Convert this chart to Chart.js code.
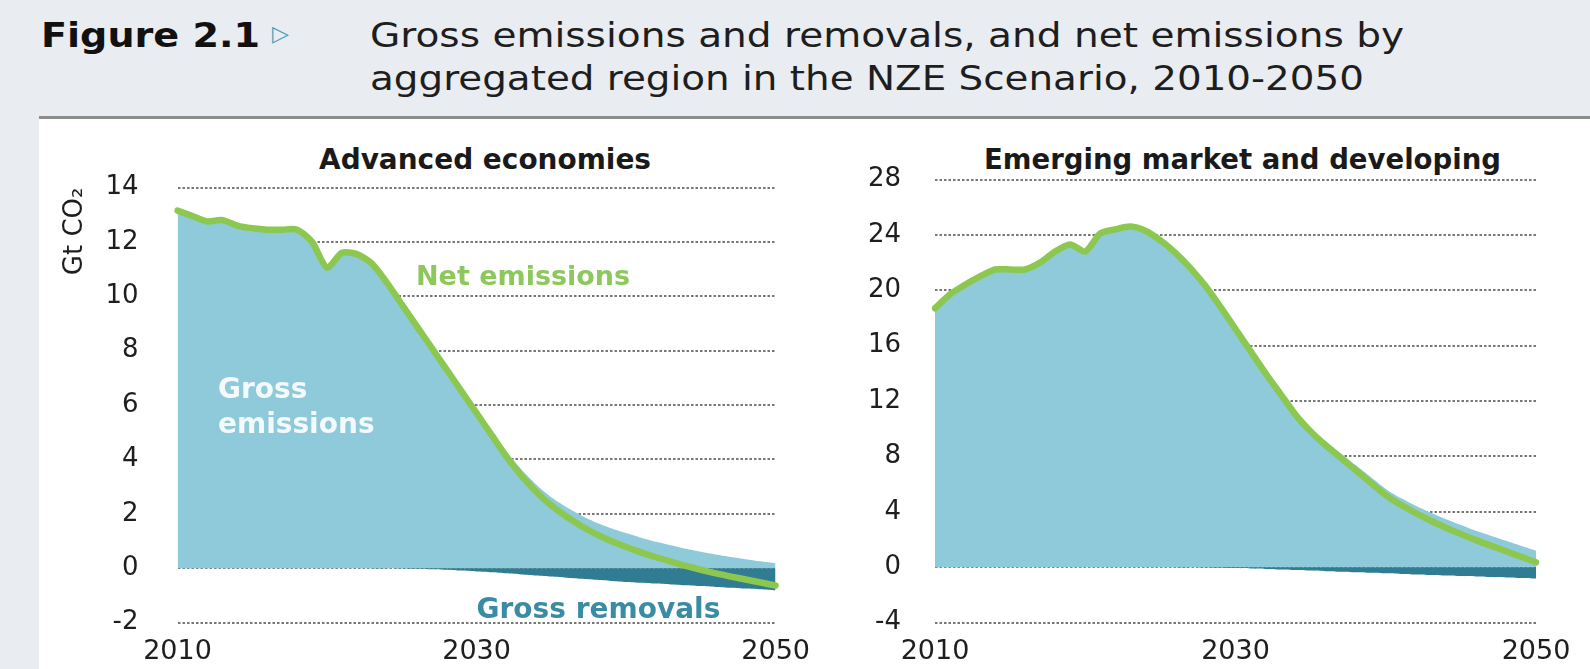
<!DOCTYPE html>
<html>
<head>
<meta charset="utf-8">
<script src="https://cdn.jsdelivr.net/npm/chart.js@4.4.1/dist/chart.umd.min.js"></script>
<style>
  html, body { margin: 0; padding: 0; background: #ffffff; }
  #page { position: relative; width: 1590px; height: 669px; overflow: hidden; background: #ffffff; }
  #band { position: absolute; left: 0; top: 0; width: 1590px; height: 117px; background: #e9edf1; }
  #strip { position: absolute; left: 0; top: 0; width: 39px; height: 669px; background: #e9edf1; }
  #rule { position: absolute; left: 39px; top: 116px; width: 1551px; height: 3px; background: #8c8c8c; }
  .txt { position: absolute; white-space: nowrap; transform-origin: 0 0; line-height: 1; color: #1e1e1e; }
  #figno { left: 41px; top: 15px; font: bold 34px "DejaVu Sans"; color: #111; }
  #tri { left: 272px; top: 21px; font: 22px "DejaVu Sans"; color: #4aa0b8; }
  #line1 { left: 370px; top: 15px; font: 34px "DejaVu Sans"; }
  #line2 { left: 370px; top: 58px; font: 34px "DejaVu Sans"; }
  .ptitle { top: 143px; font: bold 28px "DejaVu Sans"; color: #1a1a1a; }
  #tAdv { left: 319px; }
  #tEmd { left: 984px; }
  canvas { position: absolute; }
  #cAdv { left: 40px; top: 120px; }
  #cEmd { left: 810px; top: 120px; }
</style>
</head>
<body>
<div id="page">
  <div id="band"></div>
  <div id="strip"></div>
  <div id="rule"></div>
  <div class="txt" id="figno" data-w="219">Figure 2.1</div>
  <div class="txt" id="tri">▷</div>
  <div class="txt" id="line1" data-w="1034">Gross emissions and removals, and net emissions by</div>
  <div class="txt" id="line2" data-w="994">aggregated region in the NZE Scenario, 2010-2050</div>
  <div class="txt ptitle" id="tAdv" data-w="332">Advanced economies</div>
  <div class="txt ptitle" id="tEmd" data-w="517">Emerging market and developing</div>
  <canvas id="cAdv" width="770" height="549"></canvas>
  <canvas id="cEmd" width="780" height="549"></canvas>
</div>
<script>
// Years on the horizontal axis (annual steps)
const years = [2010, 2011, 2012, 2013, 2014, 2015, 2016, 2017, 2018, 2019,
               2020, 2021, 2022, 2023, 2024, 2025, 2026, 2027, 2028, 2029,
               2030, 2031, 2032, 2033, 2034, 2035, 2036, 2037, 2038, 2039,
               2040, 2041, 2042, 2043, 2044, 2045, 2046, 2047, 2048, 2049, 2050];
const xTickYears = [2010, 2030, 2050];

// Advanced economies (Gt CO2)
const advGross = [13.15, 12.95, 12.75, 12.8, 12.6, 12.5, 12.45, 12.45, 12.45, 12.0,
                  11.05, 11.6, 11.55, 11.2, 10.5, 9.71, 8.92, 8.14, 7.36, 6.59,
                  5.82, 5.05, 4.29, 3.63, 3.07, 2.61, 2.25, 1.94, 1.68, 1.47,
                  1.29, 1.12, 0.97, 0.84, 0.71, 0.6, 0.5, 0.41, 0.33, 0.25, 0.18];
const advRemovals = [0, 0, 0, 0, 0, 0, 0, 0, 0, 0,
                     0, 0, 0, 0, 0, -0.01, -0.02, -0.04, -0.06, -0.09,
                     -0.12, -0.15, -0.19, -0.23, -0.27, -0.31, -0.35, -0.39, -0.43, -0.47,
                     -0.51, -0.54, -0.57, -0.6, -0.63, -0.66, -0.69, -0.72, -0.75, -0.78, -0.82];
const advNet = [13.15, 12.95, 12.75, 12.8, 12.6, 12.5, 12.45, 12.45, 12.45, 12.0,
                11.05, 11.6, 11.55, 11.2, 10.5, 9.7, 8.9, 8.1, 7.3, 6.5,
                5.7, 4.9, 4.1, 3.4, 2.8, 2.3, 1.9, 1.55, 1.25, 1.0,
                0.78, 0.58, 0.4, 0.24, 0.08, -0.06, -0.19, -0.31, -0.42, -0.53, -0.64];

// Emerging market and developing economies (Gt CO2)
const emdGross = [18.7, 19.7, 20.4, 21.0, 21.5, 21.5, 21.5, 22.0, 22.8, 23.3,
                  22.8, 24.1, 24.4, 24.6, 24.3, 23.6, 22.7, 21.6, 20.32, 18.84,
                  17.27, 15.7, 14.13, 12.67, 11.21, 10.05, 9.09, 8.23, 7.37, 6.51,
                  5.65, 4.99, 4.43, 3.92, 3.46, 3.05, 2.63, 2.27, 1.9, 1.54, 1.18];
const emdRemovals = [0, 0, 0, 0, 0, 0, 0, 0, 0, 0,
                     0, 0, 0, 0, 0, 0, 0, 0, -0.02, -0.04,
                     -0.07, -0.1, -0.13, -0.17, -0.21, -0.25, -0.29, -0.33, -0.37, -0.41,
                     -0.45, -0.49, -0.53, -0.57, -0.61, -0.65, -0.68, -0.72, -0.75, -0.79, -0.83];
const emdNet = [18.7, 19.7, 20.4, 21.0, 21.5, 21.5, 21.5, 22.0, 22.8, 23.3,
                22.8, 24.1, 24.4, 24.6, 24.3, 23.6, 22.7, 21.6, 20.3, 18.8,
                17.2, 15.6, 14.0, 12.5, 11.0, 9.8, 8.8, 7.9, 7.0, 6.1,
                5.2, 4.5, 3.9, 3.35, 2.85, 2.4, 1.95, 1.55, 1.15, 0.75, 0.35];

const COLORS = {
  gross: '#8fcadb',
  removals: '#2f7c93',
  net: '#8cc84f',
  grid: '#777777',
  text: '#1e1e1e'
};

// Stretch header lines to their set widths
function fitText() {
  document.querySelectorAll('.txt[data-w]').forEach(el => {
    el.style.transform = 'none';
    const w = el.getBoundingClientRect().width;
    const target = parseFloat(el.dataset.w);
    el.style.transform = 'scaleX(' + (target / w) + ')';
  });
}
fitText();
if (document.fonts && document.fonts.ready) document.fonts.ready.then(fitText);

// Text labels placed in data coordinates inside the plot
const areaLabels = {
  id: 'areaLabels',
  afterDatasetsDraw(chart, args, opts) {
    const { ctx, scales } = chart;
    (opts.items || []).forEach(it => {
      const x = scales.x.getPixelForValue(it.year - years[0]);
      const y = scales.y.getPixelForValue(it.value);
      ctx.save();
      ctx.font = it.font;
      ctx.fillStyle = it.color;
      ctx.textAlign = 'left';
      ctx.textBaseline = 'alphabetic';
      ctx.fillText(it.text, x, y);
      ctx.restore();
    });
  }
};

function makeChart(id, cfg) {
  // plot-area box inside the canvas
  const box = { axisW: cfg.area.left, axisH: 549 - cfg.area.bottom,
                padTop: cfg.area.top, padRight: cfg.width - cfg.area.right };
  const chart = new Chart(document.getElementById(id), {
    type: 'line',
    data: {
      labels: years,
      datasets: [
        { label: 'Gross emissions', data: cfg.gross, fill: 'origin', backgroundColor: COLORS.gross,
          borderWidth: 0, pointRadius: 0, tension: 0.25, order: 3 },
        { label: 'Gross removals', data: cfg.removals, fill: 'origin', backgroundColor: COLORS.removals,
          borderWidth: 0, pointRadius: 0, tension: 0.25, order: 2 },
        { label: 'Net emissions', data: cfg.net, fill: false, borderColor: COLORS.net,
          borderWidth: 6.5, pointRadius: 0, tension: 0.25, borderCapStyle: 'round',
          borderJoinStyle: 'round', order: 1 }
      ]
    },
    options: {
      responsive: false,
      animation: false,
      events: [],
      layout: { padding: { left: 0, right: box.padRight, top: box.padTop, bottom: 0 } },
      plugins: {
        legend: { display: false },
        tooltip: { enabled: false },
        title: { display: false },
        areaLabels: { items: cfg.labels }
      },
      scales: {
        x: {
          type: 'category',
          grid: { display: false, drawTicks: true, tickLength: 13 },
          border: { display: false },
          ticks: {
            autoSkip: false,
            maxRotation: 0,
            padding: 0,
            color: COLORS.text,
            font: { family: 'DejaVu Sans', size: 27 },
            callback: function (v) {
              const yr = years[v];
              return xTickYears.includes(yr) ? String(yr) : '';
            }
          },
          afterFit: s => { s.height = box.axisH; }
        },
        y: {
          min: cfg.min, max: cfg.max,
          grid: { color: COLORS.grid, lineWidth: 2, drawTicks: true,
                  tickLength: cfg.tickGap, tickColor: 'rgba(0,0,0,0)' },
          border: { display: false, dash: [2.5, 2] },
          ticks: {
            stepSize: cfg.step,
            padding: 0,
            color: COLORS.text,
            font: { family: 'DejaVu Sans', size: 26 }
          },
          title: cfg.yTitle ? {
            display: true,
            text: 'Gt CO\u2082',
            align: 'end',
            color: COLORS.text,
            font: { family: 'DejaVu Sans', size: 26 },
            padding: { top: 20, bottom: 0 }
          } : { display: false },
          afterFit: s => { s.width = box.axisW; }
        }
      }
    },
    plugins: [areaLabels]
  });
  // settle the plot area on its intended box
  for (let i = 0; i < 2; i++) {
    const ca = chart.chartArea;
    const dl = cfg.area.left - ca.left, dt = cfg.area.top - ca.top;
    const dr = ca.right - cfg.area.right, db = ca.bottom - cfg.area.bottom;
    if (Math.abs(dl) + Math.abs(dt) + Math.abs(dr) + Math.abs(db) < 0.5) break;
    box.axisW += dl; box.padTop += dt; box.padRight += dr; box.axisH += db;
    chart.options.layout.padding = { left: 0, right: box.padRight, top: box.padTop, bottom: 0 };
    chart.update();
  }
  return chart;
}

makeChart('cAdv', {
  width: 770,
  area: { left: 137.5, right: 735.7, top: 67.5, bottom: 502.5 },
  gross: advGross, removals: advRemovals, net: advNet,
  min: -2, max: 14, step: 2,
  tickGap: 39, yTitle: true,
  labels: [
    { text: 'Net emissions', year: 2025.95, value: 10.41, color: '#8cc85c', font: 'bold 27px "DejaVu Sans"' },
    { text: 'Gross', year: 2012.71, value: 6.27, color: '#f4fafc', font: 'bold 28px "DejaVu Sans"' },
    { text: 'emissions', year: 2012.71, value: 4.97, color: '#f4fafc', font: 'bold 28px "DejaVu Sans"' },
    { text: 'Gross removals', year: 2030.0, value: -1.82, color: '#3a8ca4', font: 'bold 28px "DejaVu Sans"' }
  ]
});

makeChart('cEmd', {
  width: 780,
  area: { left: 125, right: 726, top: 59.5, bottom: 502.5 },
  gross: emdGross, removals: emdRemovals, net: emdNet,
  min: -4, max: 28, step: 4,
  tickGap: 34, yTitle: false,
  labels: []
});
</script>
</body>
</html>
